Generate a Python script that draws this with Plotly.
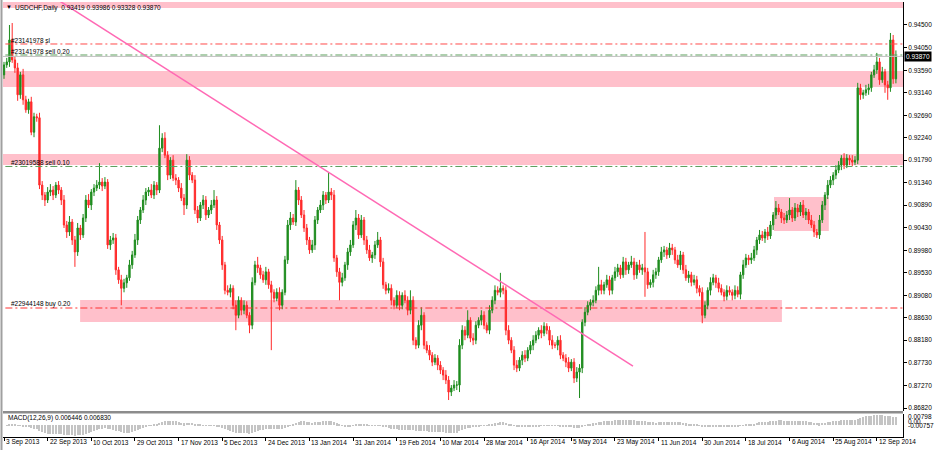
import numpy as np
import pandas as pd
from plotly import graph_objects as go

# USDCHF daily closes, in 1/10000 (3 Sep 2013 .. Sep 2014)
close_pips = [
    9370, 9376, 9420, 9380, 9364, 9310, 9350, 9300, 9280, 9296, 9235, 9266, 9264, 9129, 9109, 9099, 9115, 9119, 9109, 9129,
    9119, 9099, 9049, 9035, 9055, 9019, 8995, 9043, 9029, 9063, 9099, 9089, 9115, 9123, 9129, 9135, 9127, 9135, 9009, 9019,
    9023, 8959, 8939, 8922, 8933, 8943, 8969, 8989, 9019, 9059, 9079, 9099, 9115, 9119, 9109, 9129, 9119, 9203, 9223, 9189,
    9149, 9179, 9143, 9139, 9123, 9103, 9089, 9179, 9149, 9139, 9079, 9063, 9089, 9099, 9069, 9079, 9089, 9099, 9049, 9019,
    8969, 8918, 8914, 8922, 8888, 8868, 8898, 8878, 8888, 8868, 8848, 8934, 8969, 8963, 8949, 8939, 8955, 8929, 8914, 8902,
    8914, 8888, 8914, 8979, 9049, 9063, 9055, 9119, 9099, 9069, 9043, 9019, 8999, 9009, 9059, 9079, 9089, 9109, 9099, 9115,
    9109, 8983, 8955, 8934, 8943, 8969, 8995, 9009, 9049, 9063, 9029, 9059, 9019, 8999, 8983, 8989, 9009, 9019, 8975, 8929,
    8918, 8922, 8898, 8888, 8908, 8888, 8908, 8898, 8878, 8898, 8818, 8808, 8848, 8868, 8808, 8798, 8788, 8774, 8782, 8768,
    8758, 8748, 8738, 8714, 8722, 8728, 8728, 8808, 8838, 8828, 8858, 8822, 8818, 8848, 8858, 8868, 8848, 8838, 8878, 8898,
    8918, 8914, 8922, 8918, 8838, 8818, 8798, 8768, 8762, 8778, 8788, 8782, 8798, 8808, 8818, 8828, 8838, 8832, 8846, 8838,
    8818, 8808, 8808, 8818, 8788, 8782, 8774, 8762, 8774, 8742, 8754, 8762, 8854, 8874, 8888, 8894, 8898, 8918, 8929, 8918,
    8929, 8939, 8918, 8943, 8955, 8963, 8949, 8975, 8959, 8969, 8975, 8949, 8969, 8959, 8963, 8955, 8929, 8934, 8949, 8955,
    8979, 8995, 8999, 8989, 9003, 8999, 8979, 8969, 8989, 8959, 8943, 8949, 8934, 8939, 8922, 8914, 8868, 8888, 8918, 8934,
    8943, 8933, 8922, 8914, 8906, 8918, 8914, 8908, 8918, 8910, 8949, 8969, 8983, 8979, 8983, 8999, 9019, 9029, 9023, 9035,
    9027, 9049, 9069, 9083, 9075, 9063, 9059, 9069, 9079, 9063, 9083, 9075, 9089, 9069, 9075, 9059, 9049, 9035, 9029, 9059,
    9089, 9109, 9129, 9139, 9149, 9159, 9169, 9183, 9169, 9183, 9179, 9175, 9179, 9324, 9310, 9314, 9320, 9324, 9350, 9360,
    9376, 9340, 9356, 9330, 9324, 9420, 9342, 9387,
]
first_open = 9350

# wick lengths above / below the body, in 1/10000
wick_up = [
    6, 8, 30, 34, 8, 10, 6, 12, 8, 6, 10, 8, 6, 10, 8, 6, 10, 12, 8, 6,
    8, 6, 10, 8, 12, 6, 8, 10, 6, 8, 10, 12, 6, 8, 10, 38, 8, 10, 6, 8,
    10, 8, 6, 10, 8, 6, 10, 8, 12, 8, 6, 10, 8, 6, 12, 8, 6, 46, 10, 12,
    8, 6, 10, 8, 6, 10, 8, 12, 8, 6, 10, 8, 6, 10, 8, 6, 10, 20, 8, 6,
    8, 6, 10, 8, 6, 10, 8, 6, 10, 8, 6, 10, 8, 16, 6, 8, 10, 6, 8, 6,
    8, 10, 6, 8, 10, 12, 8, 20, 6, 8, 10, 8, 6, 10, 8, 6, 10, 8, 6, 40,
    8, 10, 6, 8, 10, 6, 8, 10, 8, 16, 8, 10, 6, 8, 10, 6, 8, 16, 6, 8,
    6, 10, 8, 6, 10, 8, 6, 10, 8, 20, 8, 6, 10, 16, 6, 8, 10, 6, 8, 6,
    8, 6, 10, 8, 6, 10, 8, 12, 10, 8, 20, 6, 10, 8, 6, 10, 8, 6, 10, 8,
    10, 8, 31, 6, 8, 10, 6, 8, 10, 6, 8, 10, 6, 8, 10, 8, 6, 10, 8, 6,
    8, 10, 6, 8, 10, 6, 8, 10, 6, 8, 10, 8, 6, 10, 8, 6, 10, 8, 36, 10,
    6, 10, 8, 6, 10, 8, 6, 10, 8, 6, 12, 8, 6, 10, 8, 72, 8, 6, 10, 8,
    6, 10, 8, 6, 10, 8, 6, 10, 8, 6, 10, 8, 6, 10, 8, 6, 10, 8, 6, 10,
    8, 6, 10, 8, 6, 10, 8, 6, 10, 8, 6, 10, 8, 6, 10, 8, 6, 10, 8, 6,
    10, 8, 6, 14, 8, 6, 10, 8, 24, 6, 10, 8, 6, 10, 8, 6, 10, 8, 6, 10,
    8, 6, 10, 8, 6, 10, 8, 6, 10, 8, 6, 10, 8, 10, 8, 6, 10, 8, 6, 10,
    18, 8, 10, 6, 8, 14, 10, 12,
]
wick_dn = [
    8, 6, 10, 6, 10, 12, 8, 10, 6, 8, 6, 10, 8, 8, 10, 12, 6, 8, 10, 6,
    8, 10, 6, 12, 8, 10, 30, 8, 10, 6, 8, 6, 10, 8, 6, 8, 10, 6, 8, 10,
    8, 10, 8, 34, 8, 10, 6, 8, 6, 10, 8, 6, 10, 8, 6, 8, 10, 6, 8, 6,
    10, 8, 6, 10, 8, 6, 20, 8, 10, 6, 8, 10, 6, 8, 10, 6, 8, 6, 10, 8,
    10, 8, 6, 10, 8, 30, 6, 10, 8, 6, 16, 8, 6, 10, 8, 6, 10, 8, 116, 8,
    6, 10, 8, 6, 8, 10, 6, 8, 10, 6, 8, 10, 8, 6, 10, 8, 6, 10, 8, 6,
    10, 8, 10, 36, 8, 6, 10, 8, 6, 10, 8, 6, 10, 8, 6, 10, 8, 6, 10, 8,
    8, 6, 10, 8, 6, 10, 8, 6, 10, 8, 10, 8, 6, 10, 8, 6, 10, 8, 6, 10,
    8, 10, 8, 16, 8, 6, 10, 14, 8, 10, 6, 8, 10, 8, 6, 10, 8, 6, 8, 6,
    8, 6, 10, 8, 10, 8, 6, 10, 8, 6, 10, 8, 6, 8, 10, 6, 8, 10, 6, 8,
    10, 8, 6, 10, 8, 6, 10, 8, 6, 10, 8, 52, 10, 8, 6, 10, 8, 6, 10, 8,
    8, 6, 10, 8, 6, 10, 8, 6, 10, 8, 6, 10, 8, 6, 10, 50, 8, 6, 10, 8,
    8, 6, 10, 8, 6, 10, 8, 6, 10, 8, 6, 10, 8, 6, 10, 8, 16, 6, 8, 10,
    6, 10, 8, 6, 10, 8, 6, 10, 8, 6, 10, 8, 6, 10, 8, 6, 10, 8, 6, 10,
    8, 6, 10, 8, 6, 10, 8, 6, 10, 8, 6, 10, 8, 6, 10, 8, 6, 10, 6, 8,
    6, 10, 8, 6, 10, 8, 6, 10, 8, 6, 10, 8, 6, 8, 10, 8, 6, 10, 8, 6,
    8, 10, 6, 16, 24, 8, 10, 9,
]

date_labels = ['3 Sep 2013', '22 Sep 2013', '10 Oct 2013', '29 Oct 2013', '17 Nov 2013',
               '5 Dec 2013', '24 Dec 2013', '13 Jan 2014', '31 Jan 2014', '19 Feb 2014',
               '10 Mar 2014', '28 Mar 2014', '16 Apr 2014', '5 May 2014', '23 May 2014',
               '11 Jun 2014', '30 Jun 2014', '18 Jul 2014', '6 Aug 2014', '25 Aug 2014',
               '12 Sep 2014']
bars_per_label = 16

price_ticks = [0.94500, 0.94050, 0.93590, 0.93140, 0.92690, 0.92240, 0.91790, 0.91340, 0.90890,
               0.90430, 0.89980, 0.89530, 0.89080, 0.88630, 0.88180, 0.87730, 0.87270, 0.86820]
macd_labels = ['0.00798', '0.00', '-0.00757']

header_text = 'USDCHF,Daily  0.93419 0.93986 0.93328 0.93870'
macd_text = 'MACD(12,26,9) 0.006446 0.006830'
last_price = 0.93870

# order lines and zones (price levels)
sl_level = 0.94119
sell20_level = 0.93898
sell10_level = 0.91663
buy20_level = 0.88825
zone_top = (0.9484, 0.9520)
zone_upper = (0.93257, 0.93578)
zone_mid = (0.91693, 0.91913)
zone_low = (0.88544, 0.88986)
zone_box = (0.90369, 0.91051)
trend_pts = ((19.8, 0.95001), (230.6, 0.87662))

FONT = 'Liberation Sans'
GREEN = '#1e8c1e'
RED = '#ff2a2a'
PINK = '#ffc0cb'

W, H = 934, 450
ML, MR, MT, MB = 3, 31, 2, 13
PW, PH = W - ML - MR, H - MT - MB


def px(xp):
    return (xp - ML) / PW


def py(yp):
    return (H - MB - yp) / PH


def main():
    c = np.array(close_pips) / 1e4
    o = np.concatenate([[first_open / 1e4], c[:-1]])
    h = np.maximum(o, c) + np.array(wick_up) / 1e4
    l = np.minimum(o, c) - np.array(wick_dn) / 1e4
    idx = np.arange(len(c))

    s = pd.Series(c)
    macd = s.ewm(span=12, adjust=False).mean() - s.ewm(span=26, adjust=False).mean()

    fig = go.Figure()
    fig.add_trace(go.Candlestick(
        x=idx, open=o, high=h, low=l, close=c,
        increasing=dict(line=dict(color=GREEN, width=1), fillcolor=GREEN),
        decreasing=dict(line=dict(color=RED, width=1), fillcolor=RED),
        whiskerwidth=0, hoverinfo='skip', xaxis='x', yaxis='y'))
    fig.add_trace(go.Bar(x=idx, y=macd, marker=dict(color='#c4c4c4', line=dict(width=0)),
                         width=0.4, hoverinfo='skip', xaxis='x2', yaxis='y2'))

    shapes = []
    for y0, y1 in [zone_top, zone_upper, zone_mid]:
        shapes.append(dict(type='rect', xref='x', yref='y', x0=-5, x1=340, y0=y0, y1=y1,
                           fillcolor=PINK, line=dict(width=0), layer='below'))
    shapes.append(dict(type='rect', xref='x', yref='y', x0=27.9, x1=285.2, y0=zone_low[0], y1=zone_low[1],
                       fillcolor=PINK, line=dict(width=0), layer='below'))
    shapes.append(dict(type='rect', xref='x', yref='y', x0=282.3, x1=302.4, y0=zone_box[0], y1=zone_box[1],
                       fillcolor=PINK, line=dict(width=0), layer='below'))
    dd = '7px,3px,2px,3px'
    for lvl, col in [(sl_level, '#ff4a4a'), (buy20_level, '#ff3030'),
                     (sell20_level, '#5a9e5a'), (sell10_level, '#5a9e5a')]:
        shapes.append(dict(type='line', xref='x', yref='y', x0=-5, x1=340, y0=lvl, y1=lvl,
                           line=dict(color=col, width=1, dash=dd)))
    shapes.append(dict(type='line', xref='x', yref='y', x0=-5, x1=340, y0=last_price, y1=last_price,
                       line=dict(color='#c0c0c0', width=1)))
    (tx0, ty0), (tx1, ty1) = trend_pts
    shapes.append(dict(type='line', xref='x', yref='y', x0=tx0, y0=ty0, x1=tx1, y1=ty1,
                       line=dict(color='#ff69b4', width=1.5)))
    # panel separator and left frame
    shapes.append(dict(type='rect', xref='paper', yref='paper', x0=0, x1=1, y0=py(413.5), y1=py(411),
                       fillcolor='#8c8c8c', line=dict(width=0)))
    shapes.append(dict(type='line', xref='paper', yref='paper', x0=px(1.5), x1=px(1.5), y0=py(450), y1=py(0),
                       line=dict(color='#a0a0a0', width=2)))

    f = dict(family=FONT, size=6.5, color='black')
    ann = [
        dict(text='\u25bc', x=px(4), y=py(7.5), xref='paper', yref='paper', xanchor='left', yanchor='middle',
             showarrow=False, font=dict(family=FONT, size=6, color='black')),
        dict(text=header_text, x=px(13), y=py(8), xref='paper', yref='paper', xanchor='left', yanchor='middle',
             showarrow=False, font=f),
        dict(text=macd_text, x=px(6), y=py(418), xref='paper', yref='paper', xanchor='left', yanchor='middle',
             showarrow=False, font=f),
        dict(text='%.5f' % last_price, x=1, y=last_price, xref='paper', yref='y', xanchor='left', yanchor='middle',
             xshift=1, showarrow=False, bgcolor='black', borderpad=1, font=dict(family=FONT, size=6.5, color='white')),
    ]
    for txt, yp in [('#23141978 sl', 41), ('#23141978 sell 0.20', 51.5),
                    ('#23019588 sell 0.10', 162.5), ('#22944148 buy 0.20', 304)]:
        ann.append(dict(text=txt, x=px(9), y=py(yp), xref='paper', yref='paper', xanchor='left',
                        yanchor='middle', showarrow=False, font=f))
    for txt, yp in zip(macd_labels, [416.5, 421, 425.5]):
        ann.append(dict(text=txt, x=1, y=py(yp), xref='paper', yref='paper', xanchor='left', yanchor='middle',
                        xshift=3, showarrow=False, font=f))
    tickpos = [k * bars_per_label for k in range(len(date_labels))]
    for txt, xv in zip(date_labels, tickpos):
        ann.append(dict(text=txt, x=xv, y=py(442), xref='x', yref='paper', xanchor='left', yanchor='middle',
                        xshift=0, showarrow=False, font=f))

    xr = [-0.37, 329.6]
    fig.update_layout(
        width=W, height=H,
        margin=dict(l=ML, r=MR, t=MT, b=MB, autoexpand=False),
        paper_bgcolor='white', plot_bgcolor='white',
        showlegend=False, hovermode=False,
        font=dict(family=FONT, size=6.5, color='black'),
        xaxis=dict(domain=[0, 1], anchor='y', range=xr, showticklabels=False, showgrid=False,
                   zeroline=False, rangeslider=dict(visible=False), showline=False),
        xaxis2=dict(domain=[0, 1], anchor='y2', matches='x', range=xr, showgrid=False, zeroline=False,
                    showticklabels=False, tickvals=tickpos, ticks='outside', ticklen=3, tickcolor='black',
                    showline=True, linecolor='black', linewidth=1),
        yaxis=dict(domain=[py(411), 1], anchor='x', side='right', range=[0.8676, 0.94961],
                   tickvals=price_ticks, ticktext=['%.5f' % v for v in price_ticks],
                   ticks='outside', ticklen=3, tickcolor='black', showgrid=False, zeroline=False,
                   showline=True, linecolor='black', linewidth=1, tickfont=f, automargin=False),
        yaxis2=dict(domain=[0, py(414)], anchor='x2', side='right', range=[-0.0087, 0.0082],
                    showticklabels=False, showgrid=False, zeroline=False,
                    showline=True, linecolor='black', linewidth=1),
        bargap=0,
        shapes=shapes,
        annotations=ann,
    )
    fig.write_html('out.html', config={'displayModeBar': False},
                   post_script="document.body.style.margin='0';")


if __name__ == '__main__':
    main()
